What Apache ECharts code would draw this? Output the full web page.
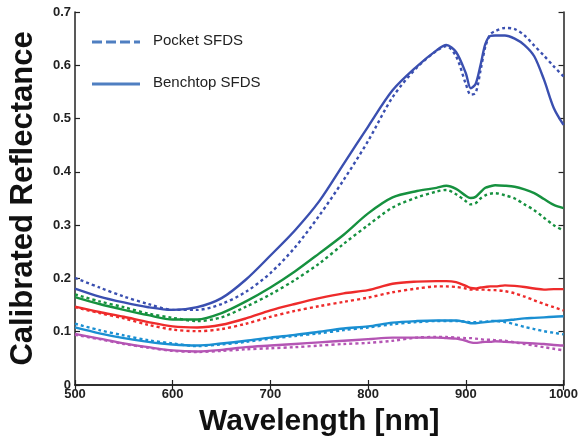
<!DOCTYPE html>
<html>
<head>
<meta charset="utf-8">
<script src="https://cdn.jsdelivr.net/npm/echarts@6/dist/echarts.min.js"></script>
<style>html,body{margin:0;padding:0;background:#fff}#c{width:581px;height:442px}</style>
</head>
<body>
<div id="c"></div>
<script>
// Wavelengths [nm]
const wavelengths = [500,525,550,575,600,625,650,675,700,725,750,775,800,825,850,870,880,890,900,905,910,915,920,925,930,940,950,960,970,980,990,1000];
// Benchtop SFDS (solid) and Pocket SFDS (dotted) for each sample
const blueBench  = [.181,.166,.155,.146,.141,.146,.163,.198,.243,.290,.345,.415,.485,.553,.598,.628,.638,.625,.585,.557,.565,.600,.640,.655,.656,.656,.650,.638,.617,.573,.520,.488];
const bluePocket = [.201,.183,.166,.152,.141,.141,.152,.175,.210,.258,.318,.385,.458,.540,.596,.627,.636,.617,.565,.545,.548,.590,.635,.658,.664,.670,.668,.656,.637,.618,.598,.579];
const greenBench  = [.165,.152,.141,.131,.123,.123,.135,.157,.183,.213,.247,.282,.322,.352,.364,.370,.374,.368,.355,.351,.353,.362,.370,.373,.375,.374,.372,.367,.360,.349,.338,.332];
const greenPocket = [.170,.157,.146,.134,.126,.120,.127,.147,.170,.197,.228,.265,.300,.333,.352,.363,.366,.358,.345,.339,.341,.350,.356,.359,.360,.356,.350,.339,.328,.314,.300,.290];
const redBench  = [.147,.137,.128,.118,.110,.108,.113,.125,.140,.152,.163,.172,.178,.190,.194,.195,.195,.193,.186,.182,.181,.183,.184,.185,.185,.187,.186,.184,.181,.179,.180,.180];
const redPocket = [.146,.135,.125,.113,.104,.101,.105,.115,.128,.139,.148,.156,.164,.174,.181,.185,.185,.184,.181,.179,.179,.179,.179,.178,.178,.176,.172,.166,.159,.152,.146,.140];
const cyanBench  = [.108,.097,.088,.081,.076,.074,.078,.083,.089,.094,.100,.106,.110,.117,.120,.121,.121,.121,.118,.116,.116,.117,.118,.119,.120,.121,.123,.125,.126,.127,.128,.129];
const cyanPocket = [.115,.103,.093,.084,.078,.073,.076,.081,.087,.092,.097,.103,.108,.114,.118,.120,.120,.120,.119,.118,.118,.119,.119,.120,.120,.118,.114,.109,.105,.101,.098,.095];
const magentaBench  = [.096,.087,.078,.071,.065,.063,.066,.071,.074,.077,.080,.083,.086,.089,.089,.089,.088,.087,.083,.080,.079,.080,.081,.081,.082,.081,.080,.079,.078,.077,.075,.074];
const magentaPocket = [.094,.086,.077,.070,.064,.062,.064,.067,.069,.071,.074,.077,.079,.083,.089,.090,.090,.089,.088,.088,.087,.086,.085,.085,.084,.083,.080,.077,.074,.071,.068,.065];

const xTicks = [500,600,700,800,900,1000];
const yTicks = [0,0.1,0.2,0.3,0.4,0.5,0.6,0.7];
const legendNames = ['Pocket SFDS','Benchtop SFDS'];

const groups = [
  {bench: blueBench, pocket: bluePocket, color: '#3a4fb0'},
  {bench: greenBench, pocket: greenPocket, color: '#16913f'},
  {bench: redBench, pocket: redPocket, color: '#ee2b2b'},
  {bench: cyanBench, pocket: cyanPocket, color: '#1a8fd2'},
  {bench: magentaBench, pocket: magentaPocket, color: '#b455b4'}
];

function pairs(vals){ return wavelengths.map((w,i)=>[w, vals[i]]); }

const series = [];
groups.forEach(g=>{
  series.push({type:'line', data:pairs(g.pocket), showSymbol:false, smooth:0.3, silent:true,
    lineStyle:{color:g.color, width:2.4, type:[3,3]}});
  series.push({type:'line', data:pairs(g.bench), showSymbol:false, smooth:0.3, silent:true,
    lineStyle:{color:g.color, width:2.4, type:'solid'}});
});

const axisFont = {fontFamily:'Liberation Sans, Arial, sans-serif', fontWeight:'bold', fontSize:13, color:'#222'};
const lineCol = '#222';

const chart = echarts.init(document.getElementById('c'), null, {renderer:'canvas'});
chart.setOption({
  animation:false,
  backgroundColor:'#fff',
  grid:{left:71, right:15, top:12, bottom:56, containLabel:false},
  xAxis:[{
    type:'value', min:xTicks[0], max:xTicks[xTicks.length-1], interval:100,
    axisLine:{show:true, lineStyle:{color:lineCol, width:1.5}},
    axisTick:{show:true, inside:true, length:5, lineStyle:{color:lineCol, width:1.2}},
    splitLine:{show:false},
    axisLabel:Object.assign({margin:3, formatter:v=>String(v)}, axisFont),
    name:'Wavelength [nm]', nameLocation:'middle', nameGap:22,
    nameTextStyle:{fontFamily:'Liberation Sans, Arial, sans-serif', fontWeight:'bold', fontSize:30, color:'#111'}
  },{
    type:'value', position:'top', min:xTicks[0], max:xTicks[xTicks.length-1], interval:100,
    axisLine:{show:true, lineStyle:{color:lineCol, width:1.5}},
    axisTick:{show:true, inside:true, length:5, lineStyle:{color:lineCol, width:1.2}},
    axisLabel:{show:false}, splitLine:{show:false}
  }],
  yAxis:[{
    type:'value', min:yTicks[0], max:yTicks[yTicks.length-1], interval:0.1,
    axisLine:{show:true, lineStyle:{color:lineCol, width:1.5}},
    axisTick:{show:true, inside:true, length:5, lineStyle:{color:lineCol, width:1.2}},
    splitLine:{show:false},
    axisLabel:Object.assign({margin:4, formatter:v=> v===0 ? '0' : v.toFixed(1)}, axisFont),
    name:'Calibrated Reflectance', nameLocation:'middle', nameGap:36, nameRotate:90,
    nameTextStyle:{fontFamily:'Liberation Sans, Arial, sans-serif', fontWeight:'bold', fontSize:31, color:'#111'}
  },{
    type:'value', position:'right', min:yTicks[0], max:yTicks[yTicks.length-1], interval:0.1,
    axisLine:{show:true, lineStyle:{color:lineCol, width:1.5}},
    axisTick:{show:true, inside:true, length:5, lineStyle:{color:lineCol, width:1.2}},
    axisLabel:{show:false}, splitLine:{show:false}
  }],
  series: series,
  graphic:[
    {type:'line', shape:{x1:92, y1:42, x2:140, y2:42}, style:{stroke:'#4f7fc1', lineWidth:3, lineDash:[10,4]}},
    {type:'text', left:153, top:33, style:{text:legendNames[0], font:'15px "Liberation Sans", Arial, sans-serif', fill:'#222'}},
    {type:'line', shape:{x1:92, y1:84, x2:140, y2:84}, style:{stroke:'#4f7fc1', lineWidth:3}},
    {type:'text', left:153, top:75, style:{text:legendNames[1], font:'15px "Liberation Sans", Arial, sans-serif', fill:'#222'}}
  ]
});
</script>
</body>
</html>
